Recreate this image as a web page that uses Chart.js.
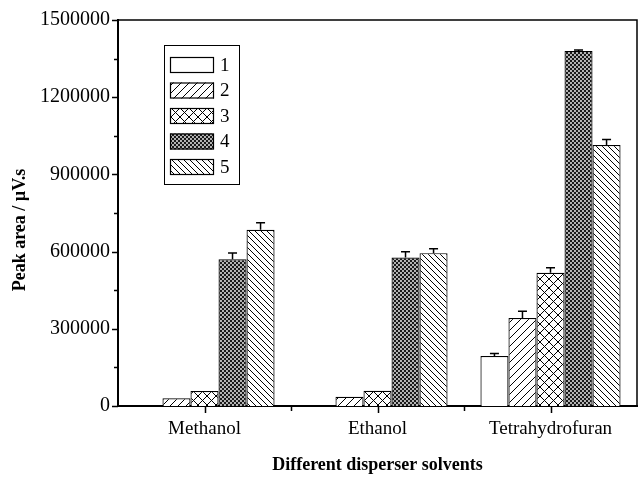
<!DOCTYPE html>
<html>
<head>
<meta charset="utf-8">
<title>Peak area by disperser solvent</title>
<script src="https://cdn.jsdelivr.net/npm/chart.js@4"></script>
<style>
    html, body { margin: 0; padding: 0; background: #fff; }
    canvas { display: block; }
</style>
</head>
<body>
<canvas id="peakChart" width="638" height="477"></canvas>
<script>
// data
const categories = ['Methanol', 'Ethanol', 'Tetrahydrofuran'];
const seriesLabels = ['1', '2', '3', '4', '5'];

const series1 = [0, 0, 194000];
const series2 = [30000, 36000, 342000];
const series3 = [58000, 59000, 518000];
const series4 = [570000, 577000, 1380000];
const series5 = [685000, 594000, 1014000];

// upper error bars
const errors1 = [0, 0, 10000];
const errors2 = [0, 0, 26000];
const errors3 = [0, 0, 19000];
const errors4 = [25000, 22000, 3000];
const errors5 = [27000, 17000, 22000];

const yMax = 1500000;
const yStep = 300000;

const FONT = "'Liberation Serif', 'Times New Roman', serif";

// hatch patterns
function makePattern(size, draw) {
    const c = document.createElement('canvas');
    c.width = size;
    c.height = size;
    const g = c.getContext('2d');
    g.fillStyle = '#fff';
    g.fillRect(0, 0, size, size);
    g.strokeStyle = '#000';
    g.fillStyle = '#000';
    g.lineWidth = 1;
    draw(g, size);
    return g.createPattern(c, 'repeat');
}

const patterns = [
    '#ffffff',
    makePattern(8, (g, s) => {
        g.beginPath();
        g.moveTo(-1, s + 1); g.lineTo(s + 1, -1);
        g.stroke();
    }),
    makePattern(9, (g, s) => {
        g.beginPath();
        g.moveTo(-1, s + 1); g.lineTo(s + 1, -1);
        g.moveTo(-1, -1); g.lineTo(s + 1, s + 1);
        g.stroke();
    }),
    makePattern(4, (g, s) => {
        g.fillStyle = '#1a1a1a';
        g.fillRect(0, 0, s, s);
        g.fillStyle = '#fff';
        g.beginPath();
        g.arc(1, 1, 0.9, 0, Math.PI * 2);
        g.arc(3, 3, 0.9, 0, Math.PI * 2);
        g.fill();
    }),
    makePattern(6, (g, s) => {
        g.beginPath();
        g.moveTo(-1, -1); g.lineTo(s + 1, s + 1);
        g.stroke();
    })
];

const values = [series1, series2, series3, series4, series5];
const errors = [errors1, errors2, errors3, errors4, errors5];

const datasets = values.map((v, i) => ({
    label: seriesLabels[i],
    data: v,
    errors: errors[i],
    backgroundColor: patterns[i],
    borderColor: '#000',
    borderWidth: 1.2,
    barPercentage: 1,
    categoryPercentage: 0.81
}));

// error bars, upward only
const errorBars = {
    id: 'errorBars',
    afterDatasetsDraw(chart) {
        const ctx = chart.ctx;
        const y = chart.scales.y;
        ctx.save();
        ctx.strokeStyle = '#000';
        ctx.lineWidth = 1.5;
        chart.data.datasets.forEach((ds, i) => {
            chart.getDatasetMeta(i).data.forEach((bar, j) => {
                const e = ds.errors[j];
                if (!e) return;
                const top = y.getPixelForValue(ds.data[j] + e);
                ctx.beginPath();
                ctx.moveTo(bar.x, bar.y);
                ctx.lineTo(bar.x, top);
                ctx.moveTo(bar.x - 4.5, top);
                ctx.lineTo(bar.x + 4.5, top);
                ctx.stroke();
            });
        });
        ctx.restore();
    }
};

// frame, tick marks, y title and the boxed legend
const frame = {
    id: 'frame',
    afterDraw(chart) {
        const ctx = chart.ctx;
        const a = chart.chartArea;
        const x = chart.scales.x;
        const y = chart.scales.y;
        ctx.save();
        ctx.strokeStyle = '#000';

        ctx.lineWidth = 1.5;
        ctx.beginPath();
        ctx.moveTo(a.left, a.top);
        ctx.lineTo(a.right, a.top);
        ctx.lineTo(a.right, a.bottom);
        ctx.stroke();

        ctx.beginPath();
        for (let v = 0; v <= yMax; v += yStep / 2) {
            const py = Math.round(y.getPixelForValue(v)) + 0.5;
            const len = v % yStep === 0 ? 6 : 4;
            ctx.moveTo(a.left, py);
            ctx.lineTo(a.left - len, py);
        }
        for (let i = 0; i < categories.length; i++) {
            const px = Math.round(x.getPixelForValue(i)) + 0.5;
            ctx.moveTo(px, a.bottom);
            ctx.lineTo(px, a.bottom + 7);
            if (i < categories.length - 1) {
                const mx = Math.round((x.getPixelForValue(i) + x.getPixelForValue(i + 1)) / 2) + 0.5;
                ctx.moveTo(mx, a.bottom);
                ctx.lineTo(mx, a.bottom + 5);
            }
        }
        ctx.stroke();

        // y axis title
        ctx.fillStyle = '#000';
        ctx.font = 'bold 18px ' + FONT;
        ctx.textAlign = 'center';
        ctx.textBaseline = 'middle';
        ctx.translate(20, 230);
        ctx.rotate(-Math.PI / 2);
        ctx.fillText('Peak area / \u00b5V.s', 0, 0);
        ctx.setTransform(1, 0, 0, 1, 0, 0);

        // legend
        ctx.lineWidth = 1;
        ctx.strokeRect(164.5, 45.5, 75, 139);
        ctx.font = '19px ' + FONT;
        ctx.textAlign = 'left';
        chart.data.datasets.forEach((ds, i) => {
            const top = 57 + i * 25.5;
            ctx.fillStyle = ds.backgroundColor;
            ctx.fillRect(170, top, 44, 16);
            ctx.lineWidth = 1.2;
            ctx.strokeRect(170.5, top + 0.5, 43, 15);
            ctx.fillStyle = '#000';
            ctx.fillText(ds.label, 220, top + 9);
        });
        ctx.restore();
    }
};

const peakChart = new Chart(document.getElementById('peakChart'), {
    type: 'bar',
    data: {
        labels: categories,
        datasets: datasets
    },
    options: {
        responsive: false,
        animation: false,
        layout: { padding: { top: 18, right: 1, left: 0, bottom: 0 } },
        plugins: {
            legend: { display: false },
            tooltip: { enabled: false }
        },
        scales: {
            x: {
                grid: { display: false, drawTicks: false },
                border: { display: true, color: '#000', width: 2 },
                ticks: { color: '#000', padding: 12, font: { family: FONT, size: 19 } },
                title: {
                    display: true,
                    text: 'Different disperser solvents',
                    color: '#000',
                    font: { family: FONT, size: 18, weight: 'bold' },
                    padding: { top: 0, bottom: 1 }
                },
                afterFit(scale) { scale.height = 71; }
            },
            y: {
                min: 0,
                max: yMax,
                grid: { display: false, drawTicks: false },
                border: { display: true, color: '#000', width: 2 },
                ticks: {
                    stepSize: yStep,
                    color: '#000',
                    padding: 8,
                    font: { family: FONT, size: 20 },
                    callback: (value) => String(value)
                },
                afterFit(scale) { scale.width = 118; }
            }
        }
    },
    plugins: [errorBars, frame]
});
</script>
</body>
</html>
